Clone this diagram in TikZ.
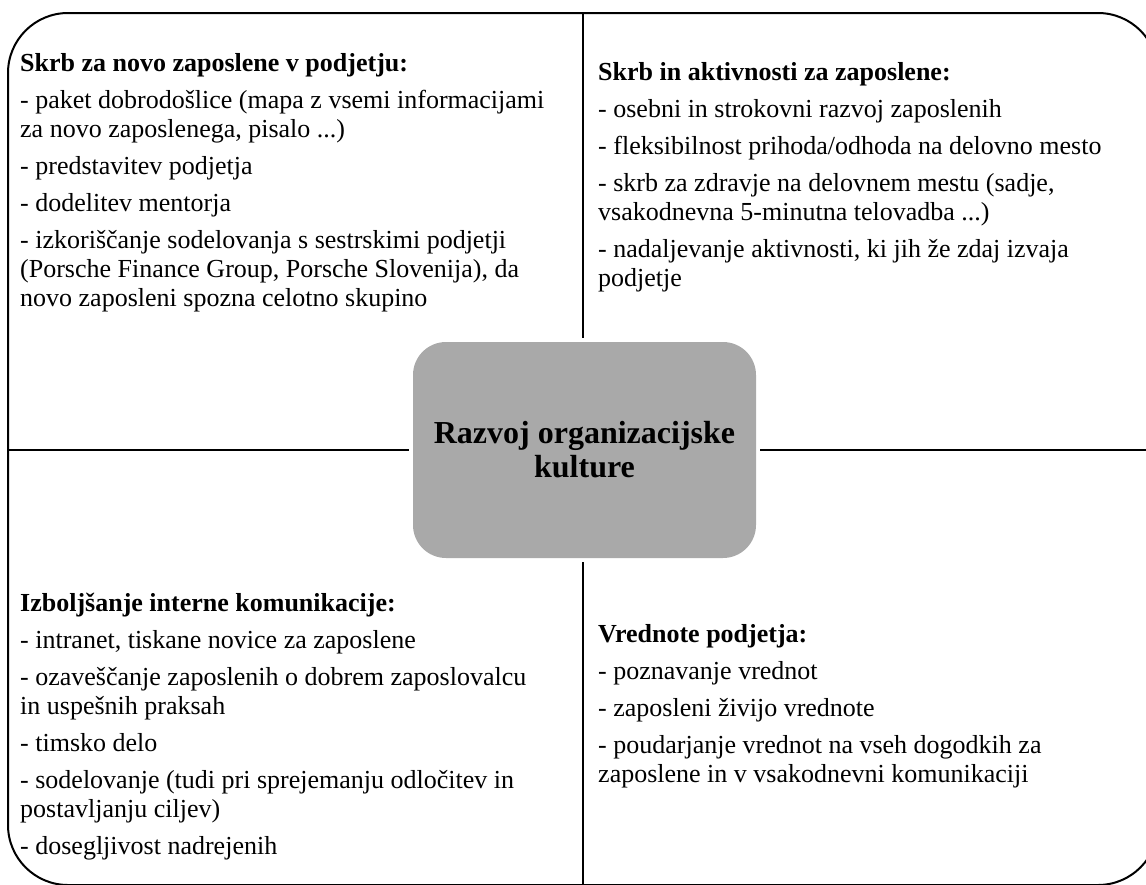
\documentclass[tikz,border=0pt]{standalone}
\usepackage{fontspec}
\setmainfont{Liberation Serif}
\usetikzlibrary{positioning}

\definecolor{coregray}{HTML}{A9A9A9}
\tikzset{
  quad/.style={anchor=base west, align=left, inner sep=0pt,
    font=\fontsize{26}{29}\selectfont},
  core/.style={fill=coregray, rounded corners=33pt, outer sep=4pt,
    minimum width=343pt, minimum height=216pt, align=center,
    font=\fontsize{32}{34}\selectfont\bfseries},
  rule/.style={line width=2pt}
}

\begin{document}
\begin{tikzpicture}[x=1pt,y=-1pt]
\useasboundingbox (0,0) rectangle (1146,884);
\begin{scope}
\clip (0,0) rectangle (1146,884);
\draw[rule, rounded corners=60pt] (8,13) rectangle (1158,885);
\end{scope}

\node[core] (core) at (584.5,450) {Razvoj organizacijske\\kulture};

\coordinate (top) at (583,13);
\coordinate (bot) at (583,885);
\coordinate (west) at (8,450);
\coordinate (east) at (1158,450);
\begin{scope}
\clip (0,0) rectangle (1146,884);
\draw[rule] (top) -- (core.north -| top);
\draw[rule] (bot) -- (core.south -| bot);
\draw[rule] (west) -- (core.west);
\draw[rule] (east) -- (core.east);
\end{scope}

% kvadranti (sidro = osnovnica zadnje vrstice)
\node[quad] (newhire) at (20,306) {\textbf{Skrb za novo zaposlene v podjetju:}\\[8pt]
- paket dobrodošlice (mapa z vsemi informacijami\\
za novo zaposlenega, pisalo ...)\\[8pt]
- predstavitev podjetja\\[8pt]
- dodelitev mentorja\\[8pt]
- izkoriščanje sodelovanja s sestrskimi podjetji\\
(Porsche Finance Group, Porsche Slovenija), da\\
novo zaposleni spozna celotno skupino};

\node[quad] (staff) at (598,286) {\textbf{Skrb in aktivnosti za zaposlene:}\\[8pt]
- osebni in strokovni razvoj zaposlenih\\[8pt]
- fleksibilnost prihoda/odhoda na delovno mesto\\[8pt]
- skrb za zdravje na delovnem mestu (sadje,\\
vsakodnevna 5-minutna telovadba ...)\\[8pt]
- nadaljevanje aktivnosti, ki jih že zdaj izvaja\\
podjetje};

\node[quad] (comms) at (20,854) {\textbf{Izboljšanje interne komunikacije:}\\[8pt]
- intranet, tiskane novice za zaposlene\\[8pt]
- ozaveščanje zaposlenih o dobrem zaposlovalcu\\
in uspešnih praksah\\[8pt]
- timsko delo\\[8pt]
- sodelovanje (tudi pri sprejemanju odločitev in\\
postavljanju ciljev)\\[8pt]
- dosegljivost nadrejenih};

\node[quad] (values) at (598,782) {\textbf{Vrednote podjetja:}\\[8pt]
- poznavanje vrednot\\[8pt]
- zaposleni živijo vrednote\\[8pt]
- poudarjanje vrednot na vseh dogodkih za\\
zaposlene in v vsakodnevni komunikaciji};
\end{tikzpicture}
\end{document}
